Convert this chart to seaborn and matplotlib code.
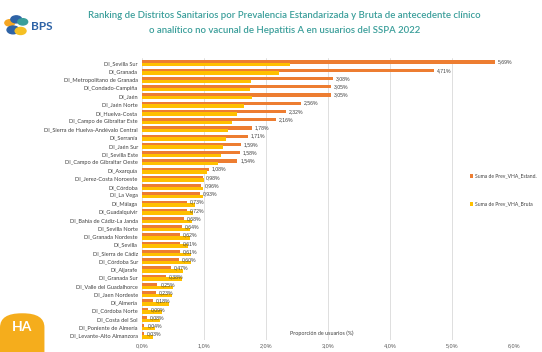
import matplotlib
matplotlib.use("Agg")
import matplotlib.pyplot as plt
import pandas as pd
import seaborn as sns
from matplotlib.patches import FancyBboxPatch, Circle, Patch

distritos = ["DI_Sevilla Sur", "DI_Granada", "DI_Metropolitano de Granada", "DI_Condado-Campiña",
             "DI_Jaén", "DI_Jaén Norte", "DI_Huelva-Costa", "DI_Campo de Gibraltar Este",
             "DI_Sierra de Huelva-Andévalo Central", "DI_Serranía", "DI_Jaén Sur", "DI_Sevilla Este",
             "DI_Campo de Gibraltar Oeste", "DI_Axarquía", "DI_Jerez-Costa Noroeste", "DI_Córdoba",
             "DI_La Vega", "DI_Málaga", "DI_Guadalquivir", "DI_Bahía de Cádiz-La Janda",
             "DI_Sevilla Norte", "DI_Granada Nordeste", "DI_Sevilla", "DI_Sierra de Cádiz",
             "DI_Córdoba Sur", "DI_Aljarafe", "DI_Granada Sur", "DI_Valle del Guadalhorce",
             "DI_Jaen Nordeste", "DI_Almería", "DI_Córdoba Norte", "DI_Costa del Sol",
             "DI_Poniente de Almería", "DI_Levante-Alto Almanzora"]
prev_estand = [5.69, 4.71, 3.08, 3.05, 3.05, 2.56, 2.32, 2.16, 1.78, 1.71, 1.59, 1.58, 1.54, 1.08,
               0.98, 0.96, 0.93, 0.73, 0.72, 0.68, 0.64, 0.62, 0.61, 0.61, 0.60, 0.47, 0.38, 0.25,
               0.23, 0.18, 0.09, 0.08, 0.04, 0.03]
prev_bruta = [2.39, 2.21, 1.76, 1.74, 1.77, 1.65, 1.53, 1.46, 1.39, 1.36, 1.30, 1.27, 1.23, 1.05,
              1.00, 0.99, 0.98, 0.86, 0.83, 0.80, 0.78, 0.77, 0.75, 0.79, 0.79, 0.66, 0.64, 0.50,
              0.48, 0.43, 0.32, 0.29, 0.21, 0.18]
series = ["Suma de Prev_VHA_Estand.", "Suma de Prev_VHA_Bruta"]
x_ticks = [0, 1, 2, 3, 4, 5, 6]
x_ticklabels = ["0,0%", "1,0%", "2,0%", "3,0%", "4,0%", "5,0%", "6,0%"]

df = pd.concat([
    pd.DataFrame({"distrito": distritos, "valor": prev_estand, "serie": series[0]}),
    pd.DataFrame({"distrito": distritos, "valor": prev_bruta, "serie": series[1]}),
])

sns.set_theme(style="white")
plt.rcParams["font.family"] = ["Lato", "DejaVu Sans"]
num_font = ["Liberation Sans", "DejaVu Sans"]

fig = plt.figure(figsize=(5.42, 3.52), dpi=100)
ax = fig.add_axes([0.262, 0.034, 0.686, 0.80])

colors = ["#ed7d31", "#ffc000"]
sns.barplot(data=df, x="valor", y="distrito", hue="serie", orient="h", palette=colors,
            dodge=True, width=0.74, ax=ax, legend=False, saturation=1)

# make the two series overlap a little, Excel style
for i, cont in enumerate(ax.containers):
    for p in cont.patches:
        h = p.get_height()
        p.set_height(h * 1.12)
        if i == 1:
            p.set_y(p.get_y() - h * 0.12)
        p.set_edgecolor("none")

ax.set_xlim(0, 6)
ax.set_ylim(len(distritos) - 0.45, -0.6)
ax.set_xticks(x_ticks)
ax.set_xticklabels(x_ticklabels, family=num_font)
ax.tick_params(axis="x", labelsize=4.0, colors="#595959", length=0, pad=2)
ax.tick_params(axis="y", labelsize=4.1, colors="#404040", length=0, pad=3)
ax.grid(axis="x", color="#d9d9d9", linewidth=0.6)
ax.set_axisbelow(True)
for s in ax.spines.values():
    s.set_visible(False)
ax.set_ylabel("")
ax.set_xlabel("Proporción de usuarios (%)", fontsize=3.9, color="#404040")
ax.xaxis.set_label_coords(0.484, 0.035)

# value labels on the standardized series
lbls = [f"{v:.2f}%".replace(".", ",") for v in prev_estand]
ax.bar_label(ax.containers[0], labels=lbls, padding=2, fontsize=3.7, color="#404040",
             family=num_font)

# legend
handles = [Patch(facecolor=c, edgecolor="none") for c in colors]
leg = fig.legend(handles, series, loc="center left", bbox_to_anchor=(0.855, 0.46),
                 fontsize=3.6, frameon=True, handlelength=0.7, handleheight=0.7,
                 handletextpad=0.3, labelspacing=4.6, borderpad=0.8)
leg.get_frame().set_edgecolor("white")
leg.get_frame().set_facecolor("white")
for t in leg.get_texts():
    t.set_color("#404040")

# title
fig.text(0.525, 0.955, "Ranking de Distritos Sanitarios por Prevalencia Estandarizada y Bruta de antecedente clínico",
         ha="center", va="center", fontsize=6.9, color="#3a9e9a", fontweight="semibold")
fig.text(0.525, 0.912, "o analítico no vacunal de Hepatitis A en usuarios del SSPA 2022",
         ha="center", va="center", fontsize=6.9, color="#3a9e9a", fontweight="semibold")

# BPS logo
for (cx, cy, r, c) in [(0.018, 0.935, 0.009, "#f5a623"), (0.030, 0.945, 0.010, "#2e63a6"),
                       (0.042, 0.938, 0.009, "#3a9e9a"), (0.024, 0.915, 0.011, "#2e63a6"),
                       (0.038, 0.912, 0.010, "#f5c023")]:
    fig.patches.append(Circle((cx, cy), r, transform=fig.transFigure, color=c, zorder=3))
fig.text(0.058, 0.925, "BPS", ha="left", va="center", fontsize=8.5, color="#2e63a6", fontweight="bold")

# HA badge
badge = FancyBboxPatch((0.0, -0.05), 0.082, 0.16, boxstyle="round,pad=0,rounding_size=0.04",
                       transform=fig.transFigure, facecolor="#f5ad1c", edgecolor="none")
fig.patches.append(badge)
fig.text(0.041, 0.072, "HA", ha="center", va="center", fontsize=10, color="white", fontweight="bold")

fig.savefig("out.png", dpi=100)
